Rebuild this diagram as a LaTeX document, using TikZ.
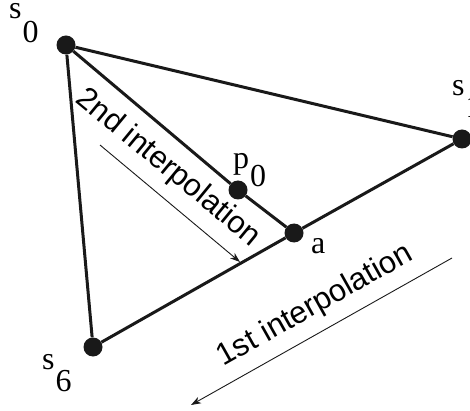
\documentclass[tikz,border=0pt]{standalone}
\usepackage{fontspec}
\setmainfont{Liberation Serif}
\setsansfont{Liberation Sans}
\usetikzlibrary{arrows.meta, positioning}

\begin{document}
\begin{tikzpicture}[
  x=1pt, y=-1pt,
  vertex/.style={circle, fill=black!90, inner sep=0pt, minimum size=19pt},
  edge/.style={line width=3pt, draw=black!90},
  tag/.style={inner sep=0pt, anchor=base west, font=\fontsize{32}{32}\selectfont},
  caption/.style={inner sep=0pt, font=\sffamily\fontsize{31}{31}\selectfont},
  arrow/.style={-{Stealth[length=10pt, width=7pt, inset=3pt]}, line width=0.9pt, draw=black!90}
]
\useasboundingbox (0,0) rectangle (470,411);

% Nodes
\node[vertex] (s0) at (66,45) {};
\node[vertex] (s1) at (462,139) {};
\node[vertex] (s6) at (93,347) {};
\node[vertex] (a) at (294,233) {};
\node[vertex] (p0) at (238,190) {};

% Labels
\node[tag] (s0lbl) at (9,19) {s\kern1pt\raisebox{-24pt}{0}};
\node[tag] (s1lbl) at (452,96) {s\kern1pt\raisebox{-22pt}{1}};
\node[tag] (s6lbl) at (42,369) {s\kern1pt\raisebox{-22pt}{6}};
\node[tag] (albl) at (311,253) {a};
\node[tag] (p0lbl) at (233,169) {p\kern1pt\raisebox{-18pt}{0}};

% Edges
\draw[edge] (s0) -- (s1);
\draw[edge] (s0) -- (s6);
\draw[edge] (s0) -- (p0) -- (a);
\draw[edge] (s6) -- (a) -- (s1);

% Interpolation arrows
\node[caption, rotate=-39.5] (second) at (168,168) {2nd interpolation};
\coordinate (second start) at (100,145);
\coordinate (second end) at (240,262);
\draw[arrow] (second start) -- (second end);

\node[caption, rotate=29.4] (first) at (315,306) {1st interpolation};
\coordinate (first start) at (452,258);
\coordinate (first end) at (191,405);
\draw[arrow] (first start) -- (first end);

\end{tikzpicture}
\end{document}
